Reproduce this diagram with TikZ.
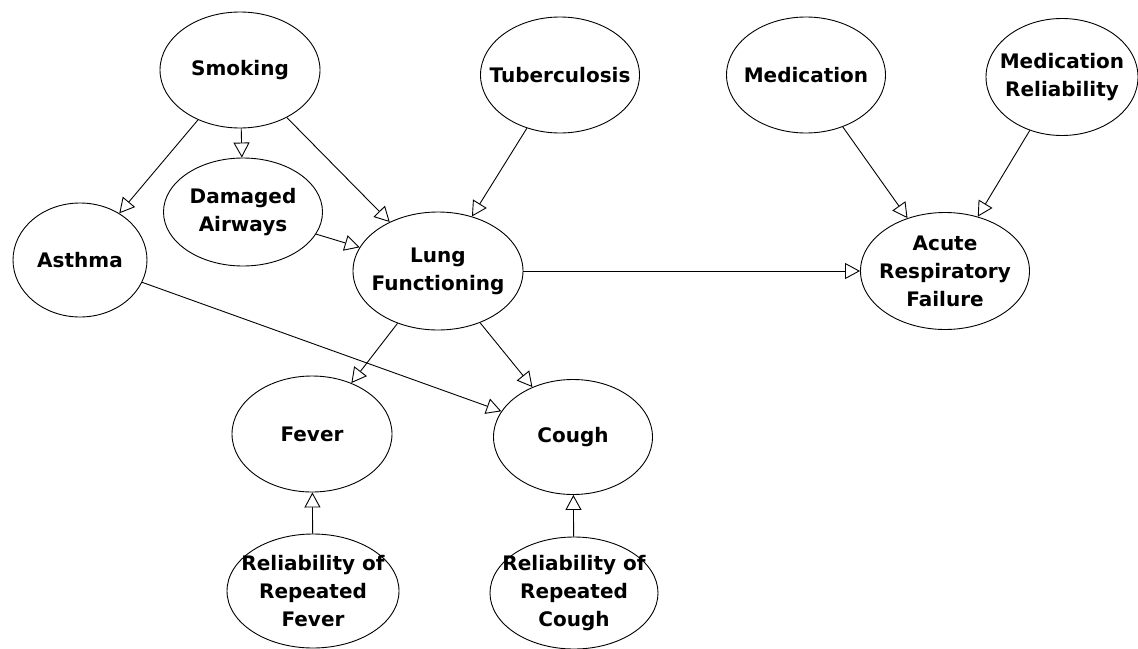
\documentclass[tikz,border=0pt]{standalone}
\usepackage{fontspec}
\setmainfont{DejaVu Sans}
\usetikzlibrary{shapes.geometric,arrows.meta}
\begin{document}
\begin{tikzpicture}[x=1pt,y=-1pt,
  var/.style={draw, ellipse, line width=0.9pt, inner sep=0pt, fill=white},
  vtext/.style={inner sep=0pt, align=center, font=\fontsize{20}{28}\selectfont\bfseries},
  dims/.style 2 args={minimum width=#1pt, minimum height=#2pt},
  link/.style={draw, line width=0.9pt, -{Triangle[open,length=15pt,width=16pt,fill=white]}}]
\useasboundingbox (0,0) rectangle (1138,648);

% variables of the network: the ellipse fixes the size, the label carries the name
\node[var, dims={160}{116}, label={[vtext]center:Smoking}] (smoking) at (240,70) {};
\node[var, dims={159}{108}, label={[vtext]center:{Damaged\\Airways}}] (damaged) at (243,212) {};
\node[var, dims={134}{114}, label={[vtext]center:Asthma}] (asthma) at (80,260) {};
\node[var, dims={159}{116}, label={[vtext]center:Tuberculosis}] (tb) at (560,75) {};
\node[var, dims={170}{118}, label={[vtext]center:{Lung\\Functioning}}] (lung) at (438,271) {};
\node[var, dims={159}{116}, label={[vtext]center:Medication}] (med) at (806,75) {};
\node[var, dims={152}{117}, label={[vtext]center:{Medication\\Reliability}}] (medrel) at (1062,77) {};
\node[var, dims={169}{117}, label={[vtext]center:{Acute\\Respiratory\\Failure}}] (arf) at (945,271) {};
\node[var, dims={160}{116}, label={[vtext]center:Fever}] (fever) at (312,434) {};
\node[var, dims={159}{115}, label={[vtext]center:Cough}] (cough) at (573,437) {};
\node[var, dims={172}{114}, label={[vtext]center:{Reliability of\\Repeated\\Fever}}] (relfever) at (313,591) {};
\node[var, dims={168}{112}, label={[vtext]center:{Reliability of\\Repeated\\Cough}}] (relcough) at (574,593) {};

% causal links
\draw[link] (smoking) -- (asthma);
\draw[link] (smoking) -- (damaged);
\draw[link] (smoking) -- (lung);
\draw[link] (damaged) -- (lung);
\draw[link] (tb) -- (lung);
\draw[link] (lung) -- (arf);
\draw[link] (med) -- (arf);
\draw[link] (medrel) -- (arf);
\draw[link] (asthma) -- (cough);
\draw[link] (lung) -- (fever);
\draw[link] (lung) -- (cough);
\draw[link] (relfever) -- (fever);
\draw[link] (relcough) -- (cough);
\end{tikzpicture}
\end{document}
